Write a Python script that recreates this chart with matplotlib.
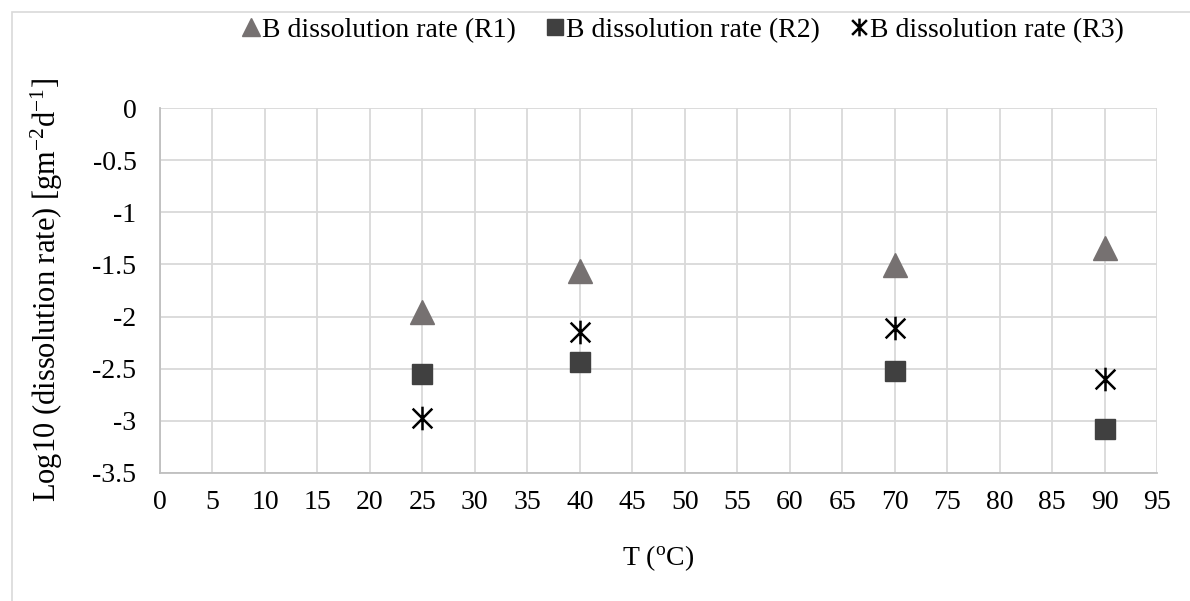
import matplotlib.pyplot as plt
from matplotlib.path import Path
from matplotlib.patches import Rectangle

plt.rcParams['font.family'] = ['Liberation Serif', 'DejaVu Serif']

# temperatures (degC) and log10 B dissolution rates for three runs
temps = [25, 40, 70, 90]
rate_r1 = [-1.96, -1.56, -1.51, -1.34]
rate_r2 = [-2.55, -2.44, -2.52, -3.08]
rate_r3 = [-2.97, -2.15, -2.11, -2.60]

x_ticks = list(range(0, 100, 5))
y_ticks = [0, -0.5, -1, -1.5, -2, -2.5, -3, -3.5]
y_tick_labels = ['0', '-0.5', '-1', '-1.5', '-2', '-2.5', '-3', '-3.5']

# asterisk marker: an X with a vertical bar through it
star = Path([(-1, -1), (1, 1), (-1, 1), (1, -1), (0, -1.2), (0, 1.2)],
            [Path.MOVETO, Path.LINETO, Path.MOVETO, Path.LINETO, Path.MOVETO, Path.LINETO])

fig = plt.figure(figsize=(11.9, 6.01), dpi=100)
fig.patches.append(Rectangle((12 / 1190, -0.01), 1.02, (601 - 12) / 601 + 0.01,
                             transform=fig.transFigure, fill=False,
                             edgecolor='#d9d9d9', linewidth=1.2))
ax = fig.add_axes([160 / 1190, 1 - 473 / 601, (1157 - 160) / 1190, (473 - 108) / 601])

ax.plot(temps, rate_r1, linestyle='none', marker='^', markersize=17,
        color='#767171', label='B dissolution rate (R1)')
ax.plot(temps, rate_r2, linestyle='none', marker='s', markersize=14.5,
        color='#404040', label='B dissolution rate (R2)')
ax.plot(temps, rate_r3, linestyle='none', marker=star, markersize=17,
        markeredgewidth=1.8, color='black', label='B dissolution rate (R3)')

ax.set_xlim(0, 95)
ax.set_ylim(-3.5, 0)
ax.set_xticks(x_ticks)
ax.set_xticklabels([str(t) for t in x_ticks])
ax.set_yticks(y_ticks)
ax.set_yticklabels(y_tick_labels)
ax.tick_params(labelsize=20, length=0)
ax.tick_params(axis='y', pad=17)
ax.tick_params(axis='x', pad=12)
ax.grid(True, color='#d9d9d9', linewidth=1.3)
ax.set_axisbelow(True)
for side in ['top', 'right']:
    ax.spines[side].set_visible(False)
for side in ['left', 'bottom']:
    ax.spines[side].set_color('#bfbfbf')
    ax.spines[side].set_linewidth(1.3)

ax.set_xlabel('T ($\\mathregular{^{o}}$C)', fontsize=20)
ax.set_ylabel('Log10 (dissolution rate) [gm$\\mathregular{^{-2}}$d$\\mathregular{^{-1}}$]',
              fontsize=22)
ax.xaxis.set_label_coords((658 - 160) / 997, (473 - 543) / 365)
ax.yaxis.set_label_coords((65 - 160) / 997, (473 - 290) / 365)

fig.legend(loc='center', bbox_to_anchor=(0.574, 1 - 30 / 601), ncol=3, frameon=False,
           fontsize=20, handlelength=0.6, handletextpad=0.1, columnspacing=1.1,
           markerscale=0.75)

fig.savefig('out.png', dpi=100)
